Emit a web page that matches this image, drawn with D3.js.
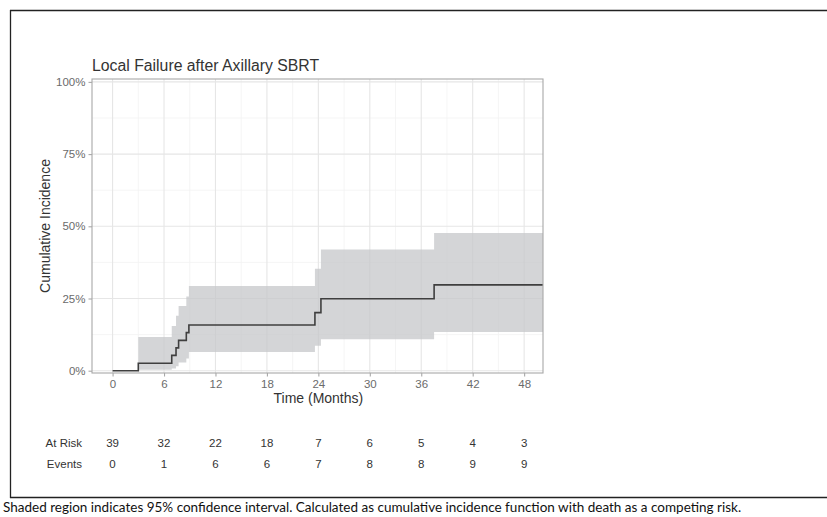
<!DOCTYPE html>
<html><head><meta charset="utf-8">
<script src="https://cdn.jsdelivr.net/npm/d3@7"></script>
<style>body{margin:0;background:#fff}svg{display:block}</style>
</head><body>
<svg id="c" width="827" height="517"></svg>
<script>
// ---- data ----
const stepTimes = [0, 3.0, 6.9, 7.4, 7.7, 8.6, 8.9, 23.6, 24.3, 37.5];
const cifEst    = [0, 2.6, 5.3, 7.9, 10.5, 13.2, 15.8, 20.1, 24.9, 29.7];
const ciUpper   = [0, 11.7, 15.5, 19.0, 22.4, 25.7, 29.3, 35.3, 42.0, 47.7];
const ciLower   = [0, 0.3, 0.8, 1.5, 2.8, 4.2, 6.5, 8.6, 10.9, 13.4];
const endTime = 50.2;
const xTicks = [0, 6, 12, 18, 24, 30, 36, 42, 48];
const yTicks = [0, 25, 50, 75, 100];
const atRisk = [39, 32, 22, 18, 7, 6, 5, 4, 3];
const events = [0, 1, 6, 6, 7, 8, 8, 9, 9];
const titleText = "Local Failure after Axillary SBRT";
const xTitle = "Time (Months)";
const yTitle = "Cumulative Incidence";
const caption = "Shaded region indicates 95% confidence interval. Calculated as cumulative incidence function with death as a competing risk.";

// ---- layout ----
const svg = d3.select("#c");
const P = {l: 92, r: 543, t: 79, b: 373};
const x = d3.scaleLinear().domain([-2.4, endTime]).range([P.l, P.r]);
const y = d3.scaleLinear().domain([0, 101]).range([370.7, P.t]);
const font = "'Liberation Sans', Arial, sans-serif";

// outer frame
svg.append("line").attr("x1",10).attr("x2",827).attr("y1",10.5).attr("y2",10.5).attr("stroke","#222").attr("stroke-width",1.3);
svg.append("line").attr("x1",10.5).attr("x2",10.5).attr("y1",10).attr("y2",498).attr("stroke","#222").attr("stroke-width",1.3);
svg.append("line").attr("x1",10).attr("x2",827).attr("y1",497.5).attr("y2",497.5).attr("stroke","#222").attr("stroke-width",1.3);

// grid
const g = svg.append("g");
const minorY = [12.5, 37.5, 62.5, 87.5];
g.selectAll(".mx").data(xTicks.map(v=>v+3).filter(v=>x(v)<P.r)).join("line")
  .attr("x1",d=>x(d)).attr("x2",d=>x(d)).attr("y1",P.t).attr("y2",P.b).attr("stroke","#f3f3f3").attr("stroke-width",0.8);
g.selectAll(".my").data(minorY).join("line")
  .attr("x1",P.l).attr("x2",P.r).attr("y1",d=>y(d)).attr("y2",d=>y(d)).attr("stroke","#f3f3f3").attr("stroke-width",0.8);
g.selectAll(".gx").data(xTicks).join("line")
  .attr("x1",d=>x(d)).attr("x2",d=>x(d)).attr("y1",P.t).attr("y2",P.b).attr("stroke","#e6e6e6").attr("stroke-width",1.1);
g.selectAll(".gy").data(yTicks).join("line")
  .attr("x1",P.l).attr("x2",P.r).attr("y1",d=>y(d)).attr("y2",d=>y(d)).attr("stroke","#e6e6e6").attr("stroke-width",1.1);

// band & line
const pts = stepTimes.map((t,i)=>({t, est:cifEst[i], lo:ciLower[i], hi:ciUpper[i]}));
pts.push({t:endTime, est:cifEst[cifEst.length-1], lo:ciLower[ciLower.length-1], hi:ciUpper[ciUpper.length-1]});
const area = d3.area().curve(d3.curveStepAfter).x(d=>x(d.t)).y0(d=>y(d.lo)).y1(d=>y(d.hi));
svg.append("path").datum(pts).attr("d",area).attr("fill","#c6c7ca").attr("fill-opacity",0.75);
const line = d3.line().curve(d3.curveStepAfter).x(d=>x(d.t)).y(d=>y(d.est));
svg.append("path").datum(pts).attr("d",line).attr("fill","none").attr("stroke","#3f3f3f").attr("stroke-width",1.6);

// panel border
svg.append("rect").attr("x",P.l).attr("y",P.t).attr("width",P.r-P.l).attr("height",P.b-P.t)
  .attr("fill","none").attr("stroke","#a8a8a8").attr("stroke-width",1.1);

// axes
const xAxis = svg.append("g").attr("transform",`translate(0,${P.b})`)
  .call(d3.axisBottom(x).tickValues(xTicks).tickSize(3.5).tickPadding(3).tickFormat(d3.format("d")));
const yAxis = svg.append("g").attr("transform",`translate(${P.l},0)`)
  .call(d3.axisLeft(y).tickValues(yTicks).tickSize(3.5).tickPadding(3).tickFormat(d=>d+"%"));
[xAxis,yAxis].forEach(a=>{
  a.select(".domain").remove();
  a.selectAll(".tick line").attr("stroke","#a8a8a8").attr("stroke-width",1.1);
  a.selectAll(".tick text").attr("fill","#6b6b6b").attr("font-family",font).attr("font-size","11.5px");
});

// titles
svg.append("text").attr("x",92).attr("y",71).text(titleText)
  .attr("font-family",font).attr("font-size","15.8px").attr("fill","#333");
svg.append("text").attr("x",(x(0)+x(48))/2).attr("y",403).attr("text-anchor","middle").text(xTitle)
  .attr("font-family",font).attr("font-size","14px").attr("fill","#333");
svg.append("text").attr("transform",`translate(50,${(P.t+P.b)/2}) rotate(-90)`).attr("text-anchor","middle").text(yTitle)
  .attr("font-family",font).attr("font-size","14px").attr("fill","#333");

// risk table
const rows = [{label:"At Risk", vals:atRisk, y:447}, {label:"Events", vals:events, y:468}];
rows.forEach(r=>{
  svg.append("text").attr("x",82).attr("y",r.y).attr("text-anchor","end").text(r.label)
    .attr("font-family",font).attr("font-size","11.5px").attr("fill","#333");
  svg.append("g").selectAll("text").data(r.vals).join("text")
    .attr("x",(d,i)=>x(xTicks[i])).attr("y",r.y).attr("text-anchor","middle").text(d=>d)
    .attr("font-family",font).attr("font-size","11.5px").attr("fill","#333");
});

// caption
svg.append("text").attr("x",3).attr("y",512).text(caption)
  .attr("font-family","Lato, 'Open Sans', sans-serif").attr("font-size","13.5px").attr("fill","#111");
</script>
</body></html>
